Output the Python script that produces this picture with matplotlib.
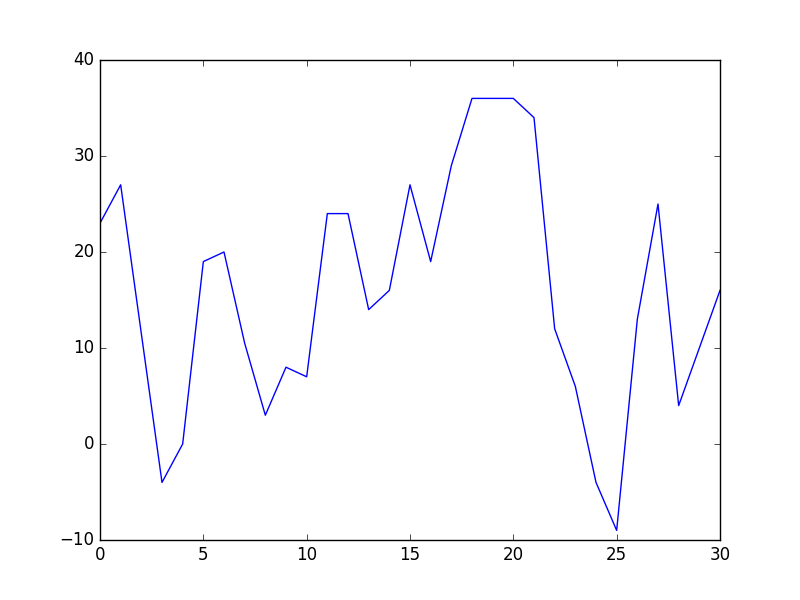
import matplotlib
matplotlib.use("Agg")
import matplotlib.pyplot as plt

plt.style.use('classic')

x_values = list(range(31))
y_values = [23, 27, 11.5, -4, 0, 19, 20, 10.5, 3, 8, 7, 24, 24, 14, 16, 27,
            19, 29, 36, 36, 36, 34, 12, 6, -4, -9, 13, 25, 4, 10, 16]

fig = plt.figure(figsize=(8, 6), dpi=100)
ax = fig.add_subplot(111)
ax.plot(x_values, y_values, color='b')
ax.set_xlim(0, 30)
ax.set_ylim(-10, 40)
fig.savefig('out.png', dpi=100)
